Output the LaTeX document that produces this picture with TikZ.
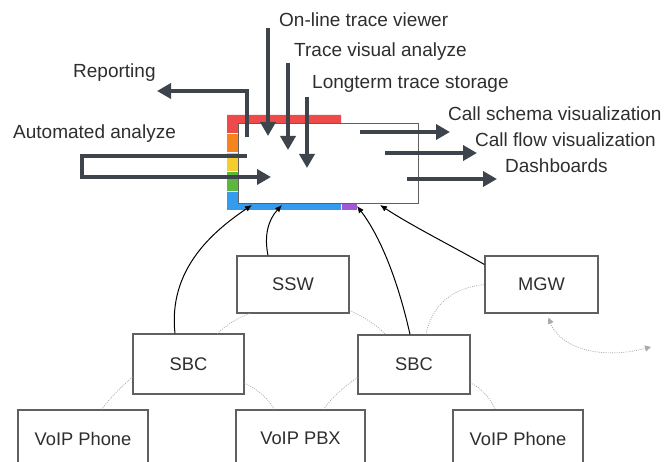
\documentclass[tikz,border=0pt]{standalone}
\usepackage{fontspec}
\setmainfont{Liberation Sans}
\usetikzlibrary{arrows.meta}
\definecolor{arr}{HTML}{3E444C}
\definecolor{txt}{HTML}{2E2E2E}
\definecolor{boxc}{HTML}{606060}
\definecolor{linkc}{HTML}{AAAAAA}
\definecolor{cred}{HTML}{EE4A4A}
\definecolor{corange}{HTML}{F5841F}
\definecolor{cyellow}{HTML}{F5CE2E}
\definecolor{cgreen}{HTML}{5CB83C}
\definecolor{cblue}{HTML}{349BEF}
\definecolor{cpurple}{HTML}{A258D6}
\begin{document}
\begin{tikzpicture}[x=1pt,y=-1pt,
  lbl/.style={font=\fontsize{19}{22}\selectfont, text=txt, inner sep=0pt},
  bigarrow/.style={draw=arr, line width=3.5pt, -{Triangle[length=14pt,width=15pt]}},
  dev/.style={draw=boxc, line width=1.2pt, fill=white, font=\fontsize{18.3}{21}\selectfont, text=txt, inner sep=0pt},
  feed/.style={draw=black, line width=1pt, -{Latex[length=7pt,width=6pt]}},
  link/.style={draw=linkc, line width=0.8pt, dash pattern=on 0.9pt off 1.3pt},
  linkarrow/.style={link, {Triangle[length=6pt,width=6pt,fill=linkc]}-{Triangle[length=6pt,width=6pt,fill=linkc]}}]
\useasboundingbox (0,0) rectangle (672,462);

% colored strips
\fill[cred] (227,115) -- (341,115) -- (341,123) -- (238,123) -- (238,133) -- (227,133) -- cycle;
\fill[corange] (227,134) rectangle (238,152);
\fill[cyellow] (227,153) rectangle (238,171);
\fill[cgreen] (227,172) rectangle (238,191);
\fill[cblue] (227,192) -- (238,192) -- (238,203) -- (341,203) -- (341,210) -- (227,210) -- cycle;
\fill[cpurple] (342,203) rectangle (357,210);

% main box
\node[draw=boxc, line width=1pt, fill=white, minimum width=180pt, minimum height=80pt, inner sep=0pt, anchor=north west] (mon) at (238,123) {};

% devices
\node[dev, minimum width=112pt, minimum height=57pt] (ssw) at (293,284.5) {SSW};
\node[dev, minimum width=113pt, minimum height=57pt] (mgw) at (541.5,284.5) {MGW};
\node[dev, minimum width=111pt, minimum height=60pt] (sbcl) at (188.5,364) {SBC};
\node[dev, minimum width=112pt, minimum height=59pt] (sbcr) at (414,364.5) {SBC};
\node[dev, minimum width=130pt, minimum height=57pt] (phl) at (83,438.5) {VoIP Phone};
\node[dev, minimum width=129pt, minimum height=57pt] (pbx) at (300.5,438.5) {VoIP PBX};
\node[dev, minimum width=130pt, minimum height=57pt] (phr) at (518,438.5) {VoIP Phone};

% labels
\node[lbl, anchor=base west] (lonline) at (279,27) {On-line trace viewer};
\node[lbl, anchor=base west] (lvisual) at (294,57) {Trace visual analyze};
\node[lbl, anchor=base west] (llong) at (312,89) {Longterm trace storage};
\node[lbl, anchor=base west] (lrep) at (73,78) {Reporting};
\node[lbl, anchor=base west] (lauto) at (13,139) {Automated analyze};
\node[lbl, anchor=base west] (lschema) at (448,121) {Call schema visualization};
\node[lbl, anchor=base west] (lflow) at (475,147) {Call flow visualization};
\node[lbl, anchor=base west] (ldash) at (505,173) {Dashboards};

% coordinates for thick arrows
\coordinate (a1s) at (268,28);  \coordinate (a1e) at (268,136);
\coordinate (a2s) at (288,63);  \coordinate (a2e) at (288,150);
\coordinate (a3s) at (307,97);  \coordinate (a3e) at (307,168);
\coordinate (rs) at (247,137);  \coordinate (rc) at (247,91); \coordinate (re) at (157,91);
\coordinate (as) at (247,156);  \coordinate (ac1) at (82,156); \coordinate (ac2) at (82,177); \coordinate (ae) at (271,177);
\coordinate (b1s) at (360,132); \coordinate (b1e) at (450,132);
\coordinate (b2s) at (385,153); \coordinate (b2e) at (477,153);
\coordinate (b3s) at (407,179); \coordinate (b3e) at (497,179);

\draw[bigarrow] (a1s) -- (a1e);
\draw[bigarrow] (a2s) -- (a2e);
\draw[bigarrow] (a3s) -- (a3e);
\draw[bigarrow] (rs) -- (rc) -- (re);
\draw[bigarrow] (as) -- (ac1) -- (ac2) -- (ae);
\draw[bigarrow] (b1s) -- (b1e);
\draw[bigarrow] (b2s) -- (b2e);
\draw[bigarrow] (b3s) -- (b3e);

% feeds into monitor
\coordinate (t1) at (252,205);
\coordinate (t2) at (282,205);
\coordinate (t3) at (357,206);
\coordinate (t4) at (380,205);
\draw[feed] ([xshift=-13.5pt]sbcl.north) .. controls (168,270) and (212,232) .. (t1);
\draw[feed] ([xshift=-25pt]ssw.north) .. controls (264,236) and (268,220) .. (t2);
\draw[feed] ([xshift=-4pt]sbcr.north) .. controls (396,272) and (377,232) .. (t3);
\draw[feed] ([yshift=20pt]mgw.west) .. controls (452,246) and (412,226) .. (t4);

% dotted links
\draw[link] ([xshift=13pt]ssw.south west) .. controls (236,318) and (226,326) .. ([xshift=85pt]sbcl.north west);
\draw[link] ([yshift=3pt]ssw.south east) .. controls (362,316) and (376,324) .. ([xshift=28pt]sbcr.north west);
\draw[link] ([yshift=-13pt]sbcl.west) .. controls (122,386) and (110,398) .. ([xshift=84pt]phl.north west);
\draw[link] ([yshift=-19pt]sbcl.east) .. controls (258,390) and (268,398) .. ([xshift=39pt]pbx.north west);
\draw[link] ([yshift=-13pt]sbcr.west) .. controls (345,386) and (331,398) .. ([xshift=-42pt]pbx.north east);
\draw[link] ([yshift=-18pt]sbcr.east) .. controls (483,390) and (490,398) .. ([xshift=43pt]phr.north west);
\draw[link] ([xshift=12pt]sbcr.north) .. controls (432,305) and (452,288) .. (mgw.west);
\coordinate (farend) at (651,347);
\draw[linkarrow] ([xshift=7pt,yshift=-4pt]mgw.south) .. controls (560,348) and (600,360) .. (farend);

\end{tikzpicture}
\end{document}
